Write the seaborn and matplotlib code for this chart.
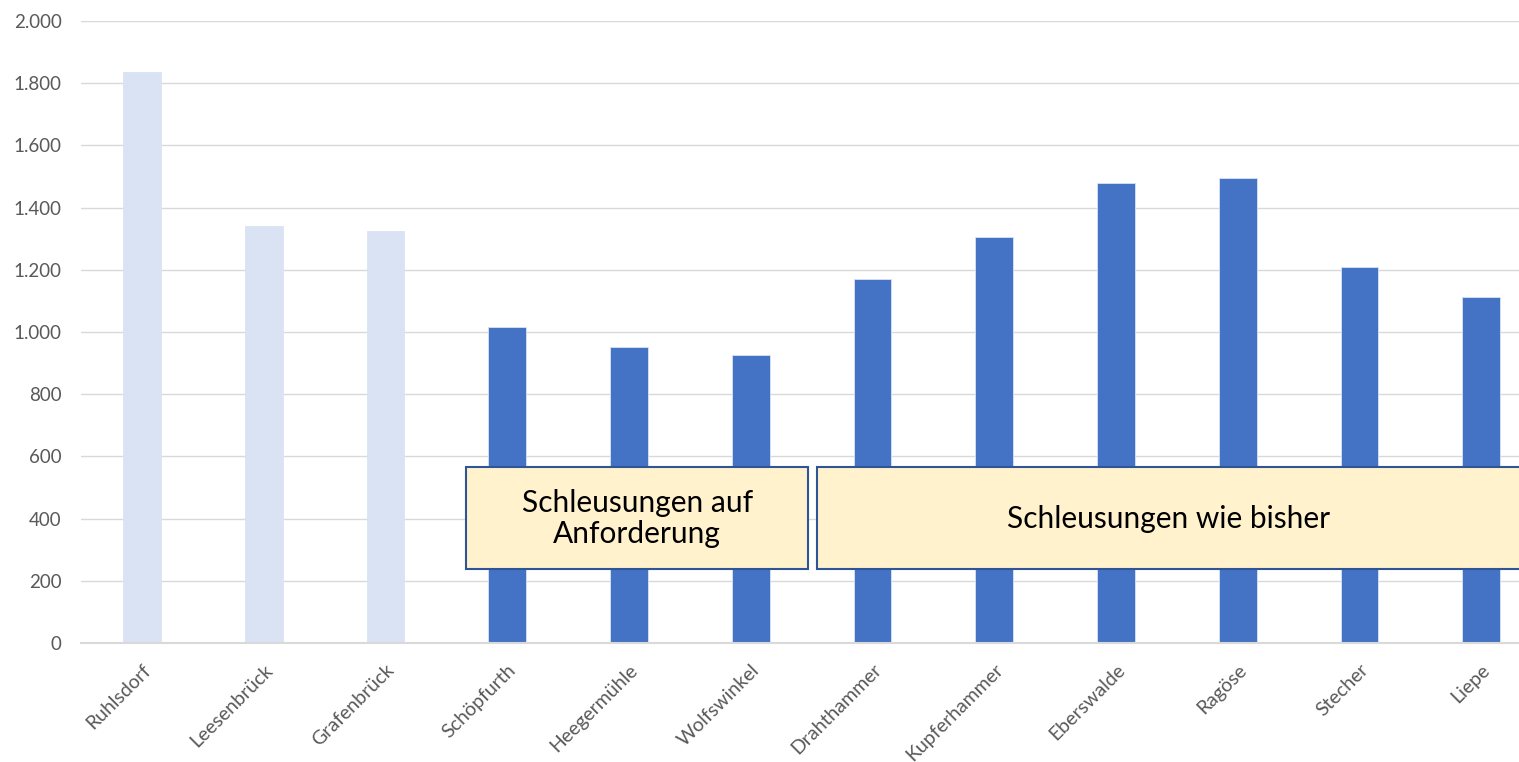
import matplotlib
matplotlib.use("Agg")
import matplotlib.pyplot as plt
import matplotlib.ticker as mticker
from matplotlib.patches import Rectangle
import pandas as pd
import seaborn as sns

# Schleusen und Werte
schleusen = ["Ruhlsdorf", "Leesenbrück", "Grafenbrück", "Schöpfurth", "Heegermühle",
             "Wolfswinkel", "Drahthammer", "Kupferhammer", "Eberswalde", "Ragöse",
             "Stecher", "Liepe"]
werte = [1837, 1340, 1326, 1015, 951, 925, 1172, 1307, 1479, 1496, 1208, 1112]
gruppe = ["alt", "alt", "alt"] + ["neu"] * 9

df = pd.DataFrame({"schleuse": schleusen, "wert": werte, "gruppe": gruppe})

sns.set_style("white")
plt.rcParams["font.family"] = ["Lato", "DejaVu Sans"]

W, H = 1519, 762
fig = plt.figure(figsize=(W / 100, H / 100), dpi=100)
ax = fig.add_axes([81 / W, 119 / H, (W - 81) / W, (643 - 21) / H])

sns.barplot(data=df, x="schleuse", y="wert", hue="gruppe",
            palette={"alt": "#DAE3F3", "neu": "#4472C4"}, saturation=1,
            width=0.31, dodge=False, legend=False, ax=ax,
            edgecolor="#DAE3F3", linewidth=0.6)

ax.set_ylim(0, 2000)
ax.set_xlim(-0.5, 11.31)
ax.set_yticks(range(0, 2001, 200))
ax.yaxis.set_major_formatter(mticker.FuncFormatter(lambda v, p: f"{int(v):,}".replace(",", ".")))
ax.grid(axis="y", color="#D9D9D9", linewidth=1)
ax.set_axisbelow(True)
for s in ["top", "right", "left"]:
    ax.spines[s].set_visible(False)
ax.spines["bottom"].set_color("#D9D9D9")
ax.spines["bottom"].set_linewidth(1.5)
ax.set_xlabel("")
ax.set_ylabel("")
ax.tick_params(axis="both", length=0, colors="#595959")
ax.tick_params(axis="y", pad=14, labelsize=13.5)
ax.tick_params(axis="x", pad=13, labelsize=14)
plt.setp(ax.get_xticklabels(), rotation=45, ha="right", rotation_mode="anchor")

# Hinweis-Kaesten (rechter Kasten laeuft bis zum Bildrand)
kaesten = [(2.664, 5.470, "Schleusungen auf\nAnforderung"),
           (5.543, 11.325, "Schleusungen wie bisher")]
for x0, x1, txt in kaesten:
    ax.add_patch(Rectangle((x0, 238), x1 - x0, 329, facecolor="#FFF2CC",
                           edgecolor="#2F5597", linewidth=1.5, zorder=5, clip_on=False))
    ax.text((x0 + x1) / 2, 400, txt, ha="center", va="center", fontsize=21.5,
            color="black", zorder=6, linespacing=1.15)

fig.savefig("out.png", dpi=100)
